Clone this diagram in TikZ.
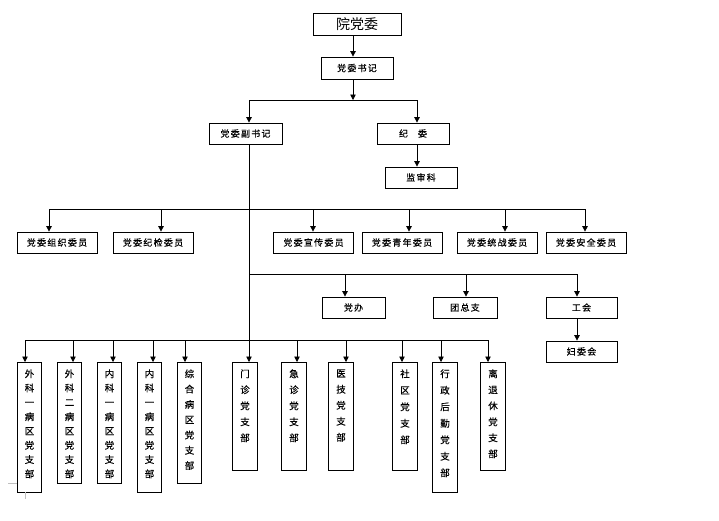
\documentclass[tikz,border=0pt]{standalone}
\usepackage{fontspec}
\newfontfamily\cjk[LetterSpace=14, FakeBold=0.4]{Noto Sans CJK SC}
\newfontfamily\cjktitle{Noto Sans CJK SC}
\usetikzlibrary{arrows.meta,calc}
% vertical text of a branch box: height, line pitch, characters
\newcommand{\vtxt}[3]{\parbox[t][#1pt][t]{24.5pt}{\centering\fontsize{9.5}{#2}\selectfont\vspace*{7pt}#3}}

\tikzset{
  ln/.style={line width=0.8pt},
  arr/.style={line width=0.8pt, -{Triangle[length=5.5pt,width=5.5pt]}},
  box/.style={draw, line width=0.8pt, inner sep=0pt, minimum height=21,
    font=\cjk\fontsize{9}{10}\selectfont},
  branch/.style={draw, line width=0.8pt, inner sep=0pt, anchor=north, font=\cjk},
}

\begin{document}
\begin{tikzpicture}[x=1pt, y=-1pt]
\useasboundingbox (0,0) rectangle (719,520);

% TOP: committee, secretary, deputy, discipline
\node[box, minimum width=88, minimum height=22, font=\cjktitle\fontsize{14}{16}\selectfont] (ydw) at (357,24) {院党委};
\node[box, minimum width=72, minimum height=22] (sj) at (357,68) {党委书记};
\node[box, minimum width=73] (fsj) at (245.5,133.5) {党委副书记};
\node[box, minimum width=72] (jw) at (413,133.5) {纪\hspace{10pt}委};
\node[box, minimum width=72] (jsk) at (421,177.5) {监审科};

\coordinate (k0) at (353,100);
\coordinate (k1) at (249,100);
\coordinate (k2) at (417,100);
\draw[arr] (ydw.south -| k0) -- (sj.north -| k0);
\draw[arr] (sj.south -| k0) -- (k0);
\draw[ln] (k1) -- (k2);
\draw[arr] (k1) -- (k1 |- fsj.north);
\draw[arr] (k2) -- (k2 |- jw.north);
\draw[arr] (jw.south -| k2) -- (k2 |- jsk.north);

% MIDDLE: committee members
\node[box, minimum width=80] (zz) at (57,242.5) {党委组织委员};
\node[box, minimum width=80] (jj) at (153,242.5) {党委纪检委员};
\node[box, minimum width=80] (xc) at (313.5,242.5) {党委宣传委员};
\node[box, minimum width=80] (qn) at (402,242.5) {党委青年委员};
\node[box, minimum width=80] (tz) at (497,242.5) {党委统战委员};
\node[box, minimum width=80] (aq) at (586,242.5) {党委安全委员};
\foreach \x/\n in {49/zz,161/jj,313/xc,409/qn,505/tz,585/aq} {
  \coordinate (c\n) at (\x,209);
  \draw[arr] (c\n) -- (c\n |- \n.north);
}
\draw[ln] (czz) -- (caq);

% offices
\node[box, minimum width=63] (db) at (353.5,307.5) {党办};
\node[box, minimum width=64] (tzz) at (465,307.5) {团总支};
\node[box, minimum width=71] (gh) at (581.5,307.5) {工会};
\node[box, minimum width=71] (fwh) at (581.5,351.5) {妇委会};
\coordinate (o0) at (249,274);
\foreach \x/\n in {345/db,466/tzz,577/gh} {
  \coordinate (o\n) at (\x,274);
  \draw[arr] (o\n) -- (o\n |- \n.north);
}
\draw[ln] (o0) -- (ogh);
\draw[arr] (gh.south -| ogh) -- (ogh |- fwh.north);

% BOTTOM: party branches
\node[branch] (b1) at (29.5,362) {\vtxt{130}{14.3}{外\\科\\一\\病\\区\\党\\支\\部}};
\node[branch] (b2) at (69.5,362) {\vtxt{121}{14.3}{外\\科\\二\\病\\区\\党\\支\\部}};
\node[branch] (b3) at (109.5,362) {\vtxt{121}{14.3}{内\\科\\一\\病\\区\\党\\支\\部}};
\node[branch] (b4) at (149.5,362) {\vtxt{130}{14.3}{内\\科\\一\\病\\区\\党\\支\\部}};
\node[branch] (b5) at (189.5,362) {\vtxt{121}{15.3}{综\\合\\病\\区\\党\\支\\部}};
\node[branch] (b6) at (245,362) {\vtxt{108}{16}{门\\诊\\党\\支\\部}};
\node[branch] (b7) at (294,362) {\vtxt{108}{16}{急\\诊\\党\\支\\部}};
\node[branch] (b8) at (341,362) {\vtxt{108}{16}{医\\技\\党\\支\\部}};
\node[branch] (b9) at (405,362) {\vtxt{108}{16.5}{社\\区\\党\\支\\部}};
\node[branch] (b10) at (445,362) {\vtxt{130}{16.5}{行\\政\\后\\勤\\党\\支\\部}};
\node[branch] (b11) at (493,362) {\vtxt{108}{16}{离\\退\\休\\党\\支\\部}};
\foreach \x/\n in {25/b1,73/b2,113/b3,153/b4,185/b5,297/b7,346/b8,402/b9,441/b10,488/b11} {
  \coordinate (p\n) at (\x,340);
  \draw[arr] (p\n) -- (p\n |- \n.north);
}
\draw[ln] (pb1) -- (pb11);
% trunk from deputy secretary
\draw[arr] (fsj.south -| k1) -- (k1 |- b6.north);

% page corner mark
\draw[gray!50, line width=0.6pt] (8,483) -- (17,483);
\draw[gray!50, line width=0.6pt] (25,492) -- (25,499);

\end{tikzpicture}
\end{document}
